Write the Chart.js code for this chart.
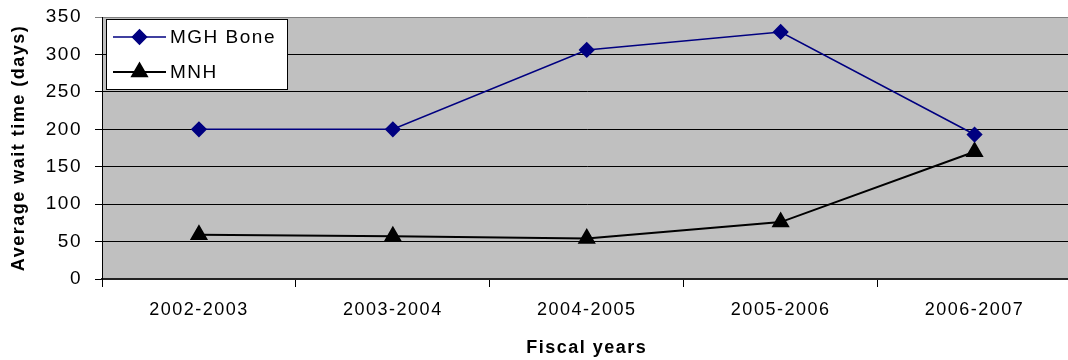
<!DOCTYPE html>
<html>
<head>
<meta charset="utf-8">
<script src="https://cdn.jsdelivr.net/npm/chart.js@4/dist/chart.umd.min.js"></script>
<style>
  html, body { margin: 0; padding: 0; background: #fff; overflow: hidden; }
  #wrap { position: relative; width: 1082px; height: 360px; }
</style>
</head>
<body>
<div id="wrap"><canvas id="waitChart"></canvas></div>
<script>
// fiscal years and average wait times (days)
const years = ["2002-2003", "2003-2004", "2004-2005", "2005-2006", "2006-2007"];
const mghBone = [200, 200, 306, 330, 193];
const mnh = [59, 57, 54, 76, 170];
const yTicks = [0, 50, 100, 150, 200, 250, 300, 350];

const FONT = "'Liberation Sans', Arial, sans-serif";
const SPACING = "1.5px";

// wide-set text like the spreadsheet export
const spacing = {
    id: "spacing",
    beforeLayout(chart) { chart.ctx.letterSpacing = SPACING; },
    beforeDraw(chart) { chart.ctx.letterSpacing = SPACING; }
};

// grey plot background
const plotBg = {
    id: "plotBg",
    beforeDraw(chart) {
        const { ctx, chartArea: a } = chart;
        ctx.save();
        ctx.fillStyle = "#c0c0c0";
        ctx.fillRect(a.left, a.top, a.right - a.left, a.bottom - a.top);
        ctx.restore();
    }
};

// boxed legend sitting in the top-left corner of the plot
const boxLegend = {
    id: "boxLegend",
    afterDraw(chart) {
        const { ctx, chartArea: a } = chart;
        const x = a.left + 4, y = a.top + 2, w = 181, h = 70;
        ctx.save();
        ctx.fillStyle = "#fff";
        ctx.fillRect(x, y, w, h);
        ctx.strokeStyle = "#000";
        ctx.lineWidth = 1;
        ctx.strokeRect(x + 0.5, y + 0.5, w, h);

        chart.data.datasets.forEach((ds, i) => {
            const cy = y + 18 + i * 35;
            ctx.strokeStyle = ds.borderColor;
            ctx.lineWidth = ds.borderWidth;
            ctx.beginPath();
            ctx.moveTo(x + 7, cy);
            ctx.lineTo(x + 60, cy);
            ctx.stroke();
            ctx.fillStyle = ds.pointBackgroundColor;
            Chart.helpers.drawPoint(ctx, {
                pointStyle: ds.pointStyle,
                radius: ds.pointRadius,
                rotation: 0,
                borderWidth: 1
            }, x + 33.5, cy);
            ctx.fillStyle = "#000";
            ctx.font = "19px " + FONT;
            ctx.letterSpacing = SPACING;
            ctx.textBaseline = "middle";
            ctx.fillText(ds.label, x + 64, cy + 1);
        });
        ctx.restore();
    }
};

new Chart(document.getElementById("waitChart"), {
    type: "line",
    data: {
        labels: years,
        datasets: [
            {
                label: "MGH Bone",
                data: mghBone,
                borderColor: "#000080",
                borderWidth: 1.6,
                pointStyle: "rectRot",
                pointRadius: 7,
                pointBackgroundColor: "#000080",
                pointBorderColor: "#000080",
                tension: 0
            },
            {
                label: "MNH",
                data: mnh,
                borderColor: "#000",
                borderWidth: 2,
                pointStyle: "triangle",
                pointRadius: 8.5,
                pointBackgroundColor: "#000",
                pointBorderColor: "#000",
                tension: 0
            }
        ]
    },
    options: {
        responsive: true,
        maintainAspectRatio: false,
        animation: false,
        layout: { padding: { top: 17, right: 3, bottom: 0, left: 0 } },
        plugins: {
            legend: { display: false },
            tooltip: { enabled: false }
        },
        scales: {
            x: {
                offset: true,
                afterFit(scale) { scale.height = 81; },
                grid: {
                    offset: true,
                    drawOnChartArea: false,
                    tickLength: 8,
                    color: "#000"
                },
                border: { color: "#222", width: 2 },
                ticks: {
                    color: "#000",
                    padding: 12,
                    maxRotation: 0,
                    font: { family: FONT, size: 18 }
                },
                title: {
                    display: true,
                    text: "Fiscal years",
                    color: "#000",
                    padding: { top: 0, bottom: 1 },
                    font: { family: FONT, size: 18, weight: "bold" }
                }
            },
            y: {
                min: 0,
                max: 350,
                afterFit(scale) {
                    scale.width = 102;
                    scale.paddingTop = 0;
                    scale.paddingBottom = 0;
                },
                afterBuildTicks(scale) {
                    scale.ticks = yTicks.map(v => ({ value: v }));
                },
                grid: {
                    color: ctx => ctx.tick && ctx.tick.value === 350 ? "#808080" : "#000",
                    lineWidth: 1,
                    tickLength: 7
                },
                border: { color: "#000", width: 1 },
                ticks: {
                    color: "#000",
                    padding: 13,
                    font: { family: FONT, size: 19 }
                },
                title: {
                    display: true,
                    text: "Average wait time (days)",
                    color: "#000",
                    padding: { top: 8, bottom: 0 },
                    font: { family: FONT, size: 18, weight: "bold" }
                }
            }
        }
    },
    plugins: [spacing, plotBg, boxLegend]
});
</script>
</body>
</html>
